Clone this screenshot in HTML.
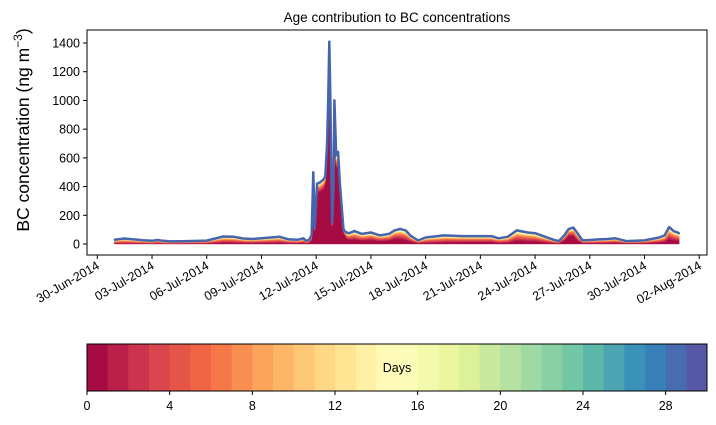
<!DOCTYPE html>
<html><head><meta charset="utf-8"><style>
html,body{margin:0;padding:0;background:#fff;}
svg{display:block;font-family:"Liberation Sans",sans-serif;}
</style></head><body>
<svg id="chart" width="716" height="425" viewBox="0 0 716 425" xmlns="http://www.w3.org/2000/svg">
<text x="397" y="22" font-size="13.5" text-anchor="middle">Age contribution to BC concentrations</text>
<text transform="translate(29,130) rotate(-90)" font-size="17.5" text-anchor="middle">BC concentration (ng m<tspan dy="-7" font-size="12">−3</tspan><tspan dy="7">)</tspan></text>
<g id="plot"></g>
<g id="cbar"></g>
</svg>
<script>
// days since 30-Jun-2014 00:00
const days = [0.93,1.5,2,2.5,3,3.3,3.6,4,5,6,6.9,7.5,8,8.5,9,10,10.5,11,11.3,11.45,11.6,11.75,11.84,11.92,12.05,12.22,12.4,12.5,12.6,12.66,12.72,12.78,12.83,12.88,12.95,13.0,13.1,13.2,13.3,13.37,13.5,13.65,13.8,14.1,14.5,15,15.5,16,16.3,16.6,16.9,17.2,17.6,18,19,20,21,21.6,22,22.5,23,23.6,24,25,25.3,25.6,25.85,26.1,26.35,26.6,27,27.5,28,28.4,28.7,29,30,30.8,31.1,31.35,31.6,31.9];
const totals = [30,38,32,26,22,28,22,18,20,24,52,50,38,35,40,50,32,30,40,22,28,60,500,110,420,430,450,470,700,1000,1410,1000,500,150,400,1000,620,640,420,300,100,80,75,90,70,80,60,70,95,105,95,55,25,45,60,55,55,55,40,50,95,80,75,30,20,60,105,114,70,25,28,32,35,40,30,20,25,45,60,118,90,75];
const freshFrac = [0.1,0.1,0.1,0.1,0.1,0.15,0.1,0.1,0.15,0.15,0.2,0.2,0.2,0.2,0.2,0.2,0.2,0.2,0.2,0.2,0.3,0.4,0.3,0.8,0.85,0.85,0.85,0.9,0.85,0.85,0.85,0.85,0.8,0.8,0.85,0.85,0.85,0.85,0.8,0.8,0.8,0.5,0.4,0.35,0.35,0.35,0.35,0.35,0.4,0.35,0.3,0.3,0.2,0.2,0.2,0.25,0.25,0.25,0.2,0.2,0.25,0.25,0.25,0.2,0.2,0.4,0.55,0.5,0.3,0.2,0.2,0.2,0.2,0.2,0.2,0.2,0.2,0.25,0.25,0.3,0.3,0.3];
const yTicks = [0,200,400,600,800,1000,1200,1400];
const xTickDays = [0,3,6,9,12,15,18,21,24,27,30,33];
const xTickLabels = ["30-Jun-2014","03-Jul-2014","06-Jul-2014","09-Jul-2014","12-Jul-2014","15-Jul-2014","18-Jul-2014","21-Jul-2014","24-Jul-2014","27-Jul-2014","30-Jul-2014","02-Aug-2014"];
const cbTicks = [0,4,8,12,16,20,24,28];
const nBands = 30;

const NS="http://www.w3.org/2000/svg";
const L=87,R=707,T=30,B=255;
const xs=d=>97.3+d*18.24;
const ys=v=>244-v*(201/1400);
const spectral=["#9e0142","#d53e4f","#f46d43","#fdae61","#fee08b","#ffffbf","#e6f598","#abdda4","#66c2a5","#3288bd","#5e4fa2"];
function hex(h){return [1,3,5].map(i=>parseInt(h.substr(i,2),16));}
function cmap(t){const p=t*10,i=Math.min(9,Math.floor(p)),f=p-i;const a=hex(spectral[i]),b=hex(spectral[i+1]);
 return "rgb("+a.map((v,k)=>Math.round(v+(b[k]-v)*f)).join(",")+")";}
function el(tag,attrs,parent){const e=document.createElementNS(NS,tag);for(const k in attrs)e.setAttribute(k,attrs[k]);parent.appendChild(e);return e;}
const plotG=document.getElementById('plot'), cbarG=document.getElementById('cbar');

const w=[];let ws=0;for(let k=1;k<nBands;k++){const v=Math.exp(-k/9);w.push(v);ws+=v;}
let cum=days.map(()=>0);
for(let k=0;k<nBands;k++){
  const lower=cum.slice();
  const upper=cum.map((c,i)=>c+(k===0?totals[i]*freshFrac[i]:totals[i]*(1-freshFrac[i])*w[k-1]/ws));
  let d="M"+days.map((dd,i)=>xs(dd).toFixed(1)+","+ys(upper[i]).toFixed(1)).join("L");
  for(let i=days.length-1;i>=0;i--)d+="L"+xs(days[i]).toFixed(1)+","+ys(lower[i]).toFixed(1);
  const p=el('path',{d:d+"Z",fill:cmap((k+0.5)/nBands),stroke:cmap((k+0.5)/nBands),'stroke-width':(k>20?1.2:0.4)},plotG);
  
  
  cum=upper;
}
const totalLine=el('path',{d:"M"+days.map((dd,i)=>xs(dd).toFixed(1)+","+ys(totals[i]).toFixed(1)).join("L"),fill:"none",stroke:"#4665ad",'stroke-width':2.5,'stroke-linejoin':'round'},plotG);


const fr=el('rect',{x:L,y:T,width:R-L,height:B-T,fill:"none",stroke:"#000",'stroke-width':1},plotG);


yTicks.forEach(v=>{
  el('line',{x1:L-4,x2:L,y1:ys(v),y2:ys(v),stroke:"#000"},plotG);
  const t=el('text',{x:L-7,y:ys(v)+4.5,'font-size':12.5,'text-anchor':'end'},plotG);t.textContent=v;
  
  
});
xTickDays.forEach((d,i)=>{
  const x=xs(d);
  el('line',{x1:x,x2:x,y1:B,y2:B+4,stroke:"#000"},plotG);
  const t=el('text',{transform:`translate(${x+3},${B+13}) rotate(-30)`,'font-size':12.5,'text-anchor':'end'},plotG);t.textContent=xTickLabels[i];
  
  
});
const CL=87,CR=707,CT=344,CB=391,bw=(CR-CL)/nBands;
for(let k=0;k<nBands;k++){
  const r=el('rect',{x:CL+k*bw,y:CT,width:bw+0.5,height:CB-CT,fill:cmap((k+0.5)/nBands)},cbarG);
  
  
}
el('rect',{x:CL,y:CT,width:CR-CL,height:CB-CT,fill:"none",stroke:"#000"},cbarG);
const dl=el('text',{x:397,y:372,'font-size':12.5,'text-anchor':'middle'},cbarG);dl.textContent="Days";


cbTicks.forEach(v=>{
  const x=CL+v*bw;
  el('line',{x1:x,x2:x,y1:CB,y2:CB+4,stroke:"#000"},cbarG);
  const t=el('text',{x:x,y:CB+19,'font-size':12.5,'text-anchor':'middle'},cbarG);t.textContent=v;
  
  
});
</script>
</body></html>
